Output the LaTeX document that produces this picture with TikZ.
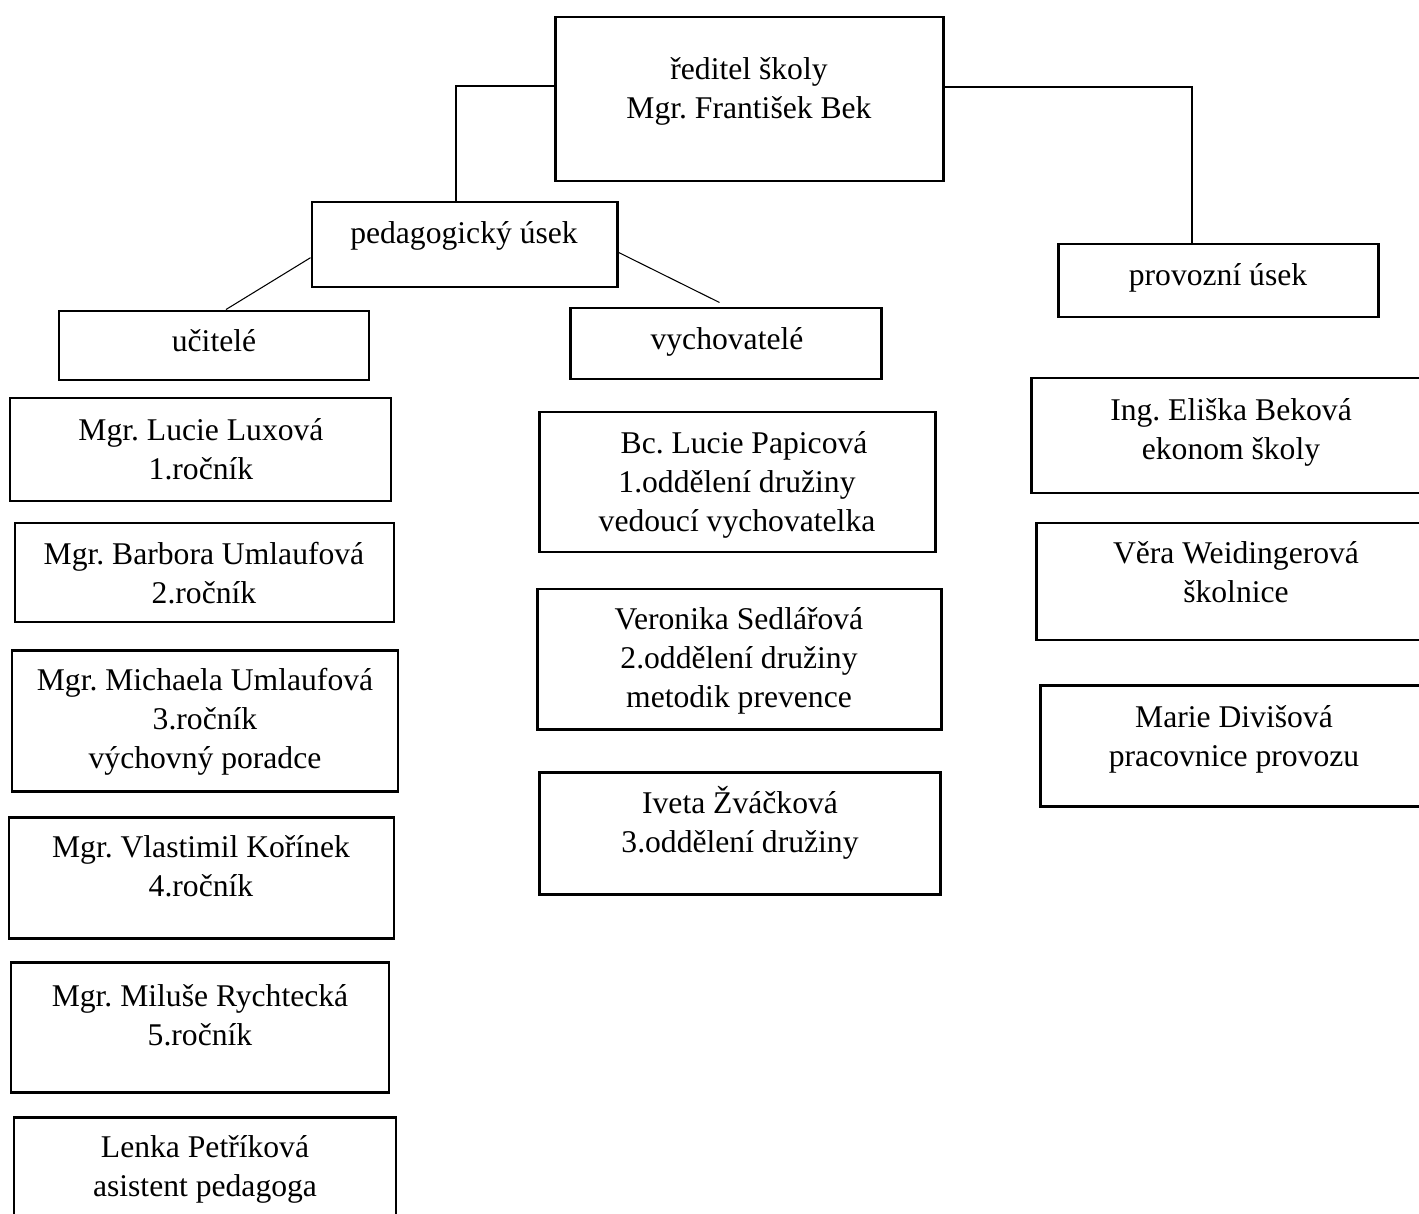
\documentclass[tikz,border=0pt]{standalone}
\usepackage{fontspec}
\setmainfont{Liberation Serif}
\frenchspacing
\usetikzlibrary{fit,calc}
\tikzset{
    box/.style={draw, line width=1.7pt, inner sep=0pt},
    txt/.style={anchor=north, align=center, inner sep=0pt, font=\fontsize{18}{22.1}\selectfont},
    conn/.style={line width=0.6pt}
}
\begin{document}
\begin{tikzpicture}[x=0.02cm, y=-0.02cm]
    \useasboundingbox (0,0) rectangle (1419,1213);
    % vedeni
    \node[box, fit={(555,17) (943,181)}] (red) {};
    \node[txt] (redT) at (749,52) {\strut ředitel školy\\Mgr. František Bek};
    \node[box, fit={(312,202) (617,287)}] (ped) {};
    \node[txt] (pedT) at (464,216) {\strut pedagogický úsek};
    \node[box, fit={(1058,244) (1378,317)}] (pro) {};
    \node[txt] (proT) at (1218,258) {\strut provozní úsek};
    \node[box, fit={(59,311) (369,380)}] (uci) {};
    \node[txt] (uciT) at (214,324) {\strut učitelé};
    \node[box, fit={(570,308) (881,379)}] (vych) {};
    \node[txt] (vychT) at (727,322) {\strut vychovatelé};
    % ucitele
    \node[box, fit={(10,398) (391,501)}] (lux) {};
    \node[txt] (luxT) at (201,413) {\strut Mgr. Lucie Luxová\\1.ročník};
    \node[box, fit={(15,523) (394,622)}] (bar) {};
    \node[txt] (barT) at (204,537) {\strut Mgr. Barbora Umlaufová\\2.ročník};
    \node[box, fit={(12,650) (398,791)}] (mich) {};
    \node[txt] (michT) at (205,663) {\strut Mgr. Michaela Umlaufová\\3.ročník\\výchovný poradce};
    \node[box, fit={(9,817) (394,938)}] (vla) {};
    \node[txt] (vlaT) at (201,830) {\strut Mgr. Vlastimil Kořínek\\4.ročník};
    \node[box, fit={(11,962) (389,1092)}] (mil) {};
    \node[txt] (milT) at (200,979) {\strut Mgr. Miluše Rychtecká\\5.ročník};
    \node[box, fit={(14,1117) (396,1240)}] (len) {};
    \node[txt] (lenT) at (205,1130) {\strut Lenka Petříková\\asistent pedagoga};
    % vychovatele
    \node[box, fit={(539,412) (935,552)}] (pap) {};
    \node[txt] (papT) at (737,426) {\strut\hspace{8pt}Bc. Lucie Papicová\\1.oddělení družiny\\vedoucí vychovatelka};
    \node[box, fit={(537,589) (941,729)}] (ver) {};
    \node[txt] (verT) at (739,602) {\strut Veronika Sedlářová\\2.oddělení družiny\\metodik prevence};
    \node[box, fit={(539,772) (940,894)}] (ive) {};
    \node[txt] (iveT) at (740,786) {\strut Iveta Žváčková\\3.oddělení družiny};
    % provoz
    \node[box, fit={(1031,378) (1431,493)}] (eli) {};
    \node[txt] (eliT) at (1231,393) {\strut Ing. Eliška Beková\\ekonom školy};
    \node[box, fit={(1036,523) (1438,640)}] (vera) {};
    \node[txt] (veraT) at (1236,536) {\strut Věra Weidingerová\\školnice};
    \node[box, fit={(1040,685) (1428,806)}] (mar) {};
    \node[txt] (marT) at (1234,700) {\strut Marie Divišová\\pracovnice provozu};
    % spojnice
    \coordinate (kp) at (456,86);
    \coordinate (kv) at (1192,87);
    \draw[conn] (red.west |- kp) -- (kp) -- (kp |- ped.north);
    \draw[conn] (red.east |- kv) -- (kv) -- (kv |- pro.north);
    \draw[conn] ($(ped.north west)!0.65!(ped.south west)$) -- ($(uci.north)+(12,0)$);
    \draw[conn] ($(ped.north east)!0.59!(ped.south east)$) -- ($(vych.north)+(-6,-4)$);
\end{tikzpicture}
\end{document}
